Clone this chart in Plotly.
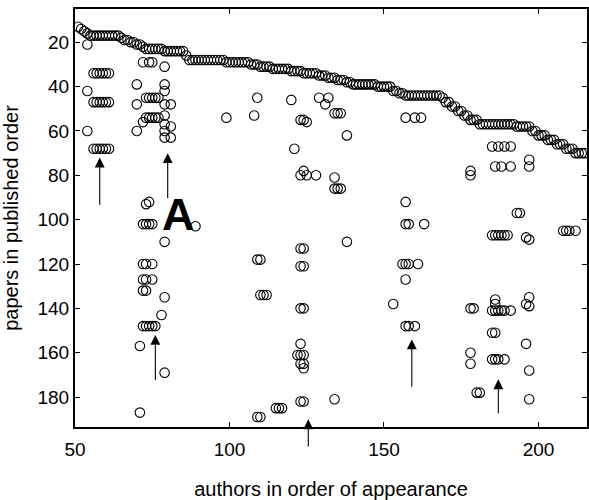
import plotly.graph_objects as go

# first paper of each new author: paper number and how many authors start there
first_paper = [13, 14, 15, 16, 17, 18, 19, 20, 21, 22, 23, 24, 26, 28, 29, 30, 31, 32, 33, 34,
               35, 36, 37, 38, 39, 40, 42, 43, 44, 45, 47, 49, 51, 53, 55, 57, 58, 60, 62, 64,
               66, 68, 70]
new_authors = [1, 1, 1, 1, 10, 1, 2, 2, 2, 1, 6, 7, 1, 12, 8, 3, 4, 6, 4, 5,
               3, 3, 3, 2, 8, 5, 2, 2, 12, 1, 2, 2, 2, 2, 3, 12, 5, 2, 3, 3,
               3, 3, 4]
first_author = 51

# later appearances (author, paper)
later_x = [54, 54, 54,
           56, 57, 58, 59, 60, 61, 56, 57, 58, 59, 60, 61, 56, 57, 58, 59, 60, 61,
           70, 70, 70, 72, 74, 75, 79,
           73, 74, 75, 76, 77, 73, 74, 75, 76, 77, 72,
           79, 79, 79, 79, 79, 79, 79, 81, 81, 81,
           99, 109, 108, 120, 121, 129, 131, 132, 123, 124, 125, 134, 135, 136, 138,
           157, 160, 162, 185, 187, 189, 191, 186, 188, 191, 197, 197, 178, 178,
           73, 74, 72, 73, 74, 75, 79, 89, 72, 73, 75, 72, 73, 75, 72, 73, 79, 78,
           72, 73, 74, 75, 76, 71, 79, 71,
           123, 124, 125, 128, 134, 134, 135, 136, 157, 157, 158, 163, 138, 123, 124,
           109, 110, 123, 124, 156, 157, 158, 161, 157, 110, 111, 112, 153, 123, 124,
           157, 158, 160,
           123, 122, 123, 124, 123, 124, 124, 123, 124, 134, 115, 116, 117, 109, 110,
           185, 186, 196, 178, 178, 185, 186, 187, 189, 197, 180, 181, 197,
           193, 194, 185, 186, 187, 188, 189, 190, 196, 197, 208, 209, 210, 212,
           186, 186, 185, 186, 187, 188, 189, 191, 178, 179, 197, 196, 197]
later_y = [21, 42, 60,
           34, 34, 34, 34, 34, 34, 47, 47, 47, 47, 47, 47, 68, 68, 68, 68, 68, 68,
           39, 48, 60, 29, 29, 29, 31,
           45, 45, 45, 45, 45, 54, 54, 54, 54, 54, 56,
           39, 42, 48, 53, 57, 60, 63, 48, 58, 63,
           54, 45, 53, 46, 68, 45, 48, 45, 55, 55, 56, 52, 52, 52, 62,
           54, 54, 54, 67, 67, 67, 67, 76, 76, 76, 73, 76, 78, 80,
           93, 92, 102, 102, 102, 102, 110, 103, 120, 120, 120, 127, 127, 127, 132, 132, 135, 143,
           148, 148, 148, 148, 148, 157, 169, 187,
           80, 78, 80, 80, 81, 86, 86, 86, 92, 102, 102, 102, 110, 113, 113,
           118, 118, 121, 121, 120, 120, 120, 120, 127, 134, 134, 134, 138, 140, 140,
           148, 148, 148,
           156, 161, 161, 161, 165, 165, 167, 182, 182, 181, 185, 185, 185, 189, 189,
           151, 151, 156, 160, 165, 163, 163, 163, 163, 168, 178, 178, 181,
           97, 97, 107, 107, 107, 107, 107, 107, 108, 109, 105, 105, 105, 105,
           136, 138, 141, 141, 141, 141, 141, 141, 140, 140, 135, 138, 139]

# arrows: author position, tail paper, tip paper
arrow_x = [58, 80, 76, 125.5, 159, 187]
arrow_tail = [94, 91, 173, 203, 176, 188]
arrow_tip = [72, 70, 152, 190, 154, 172]

W, H = 589, 500
L, R, T, B = 75, 2, 9, 73
y_range = [193.5, 5]
px_per_unit = (H - T - B) / (y_range[0] - y_range[1])

env_x, env_y = [], []
a = first_author
for p, n in zip(first_paper, new_authors):
    for _ in range(n):
        env_x.append(a)
        env_y.append(p)
        a += 1

xs = env_x + later_x
ys = env_y + later_y

fig = go.Figure()
fig.add_trace(go.Scatter(
    x=xs, y=ys, mode="markers",
    marker=dict(symbol="circle-open", size=9.5, color="black", line=dict(width=1.1)),
    cliponaxis=False, showlegend=False))

# arrows drawn with a pixel offset so the one running under the axis is kept
for ax_, t0, t1 in zip(arrow_x, arrow_tail, arrow_tip):
    fig.add_annotation(x=ax_, y=t1, ax=0, ay=(t0 - t1) * px_per_unit,
                       xref="x", yref="y", text="", showarrow=True,
                       arrowhead=2, arrowsize=1.8, arrowwidth=1.1, arrowcolor="black")

fig.add_annotation(x=83.5, y=97.5, text="<b>A</b>", showarrow=False,
                   font=dict(family="Liberation Sans, Arial", size=45, color="black"))

axis_style = dict(showline=True, linecolor="black", linewidth=2, mirror="ticks",
                  ticks="inside", ticklen=5, tickcolor="black", showgrid=False,
                  zeroline=False, automargin=False, tickfont=dict(size=19, color="black"))

fig.update_xaxes(range=[50, 215.7], tickvals=[50, 100, 150, 200], ticklabelstandoff=4,
                 title=dict(text="authors in order of appearance", standoff=24,
                            font=dict(size=20, color="black")), **axis_style)
fig.update_yaxes(range=y_range, tickvals=[20, 40, 60, 80, 100, 120, 140, 160, 180],
                 ticklabelstandoff=0,
                 title=dict(text="papers in published order", standoff=23,
                            font=dict(size=20, color="black")), **axis_style)

fig.update_layout(width=W, height=H, margin=dict(l=L, r=R, t=T, b=B),
                  plot_bgcolor="white", paper_bgcolor="white",
                  font=dict(family="Liberation Sans, Arial", color="black"))

# drop the default body margin so the figure fills the window
fig.write_html("out.html", config={"displayModeBar": False},
               post_script="document.body.style.margin='0';document.body.style.overflow='hidden';")
